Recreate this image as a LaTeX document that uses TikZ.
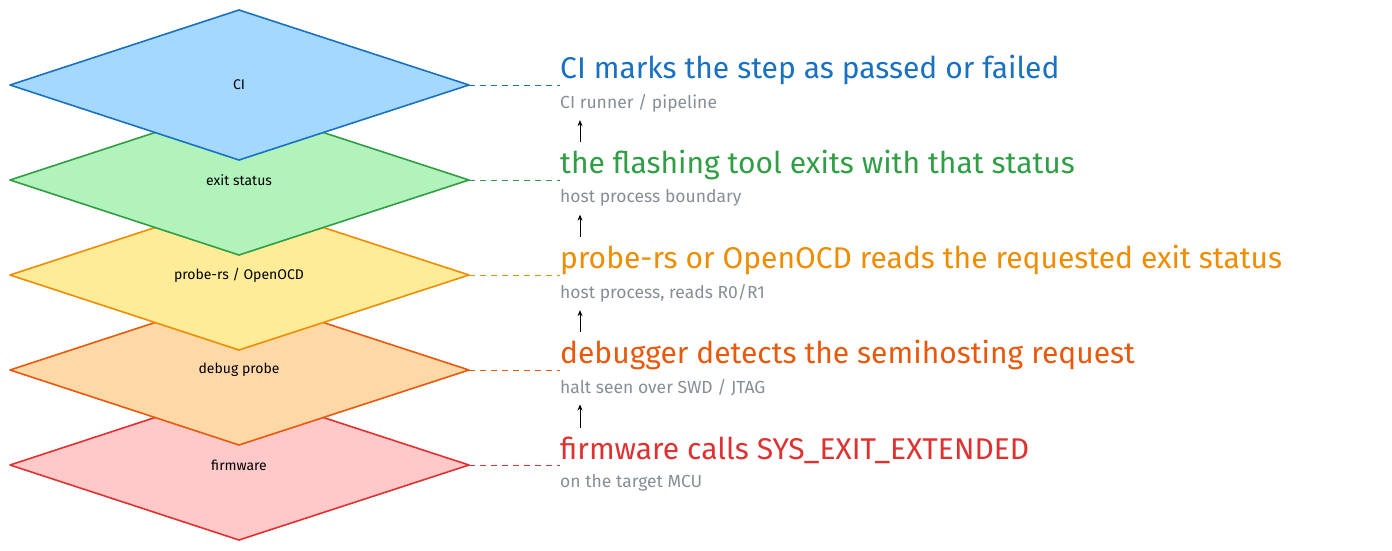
\documentclass[tikz,border=0pt]{standalone}
\usepackage{fontspec}
\setmainfont{Fira Sans}
\usetikzlibrary{arrows.meta}
\definecolor{bF}{HTML}{A5D8FF}\definecolor{bS}{HTML}{1971C2}
\definecolor{gF}{HTML}{B2F2BB}\definecolor{gS}{HTML}{2F9E44}
\definecolor{yF}{HTML}{FFEC99}\definecolor{yS}{HTML}{F08C00}
\definecolor{oF}{HTML}{FFD8A8}\definecolor{oS}{HTML}{E8590C}
\definecolor{rF}{HTML}{FFC9C9}\definecolor{rS}{HTML}{E03131}
\definecolor{subc}{HTML}{868E96}
\begin{document}
\begin{tikzpicture}[x=1pt,y=-1pt,
  lay/.style={line width=1.6pt,line join=round},
  lbl/.style={font=\fontsize{14}{16}\selectfont,text=black},
  ttl/.style={anchor=west,font=\fontsize{30}{33}\selectfont,inner sep=0},
  sub/.style={anchor=west,font=\fontsize{17.5}{20}\selectfont,text=subc,inner sep=0},
  dsh/.style={line width=1pt,dash pattern=on 6pt off 5pt},
  arr/.style={-{Stealth[length=6pt,width=5pt]},line width=0.9pt}]
\useasboundingbox (0,0) rectangle (1392,550);
\foreach \c/\fc/\sc/\lab/\ttext/\stext/\n in {
 465/rF/rS/{firmware}/{firmware calls SYS\_EXIT\_EXTENDED}/{on the target MCU}/e,
 370/oF/oS/{debug probe}/{debugger detects the semihosting request}/{halt seen over SWD / JTAG}/d,
 275/yF/yS/{probe-rs / OpenOCD}/{probe-rs or OpenOCD reads the requested exit status}/{host process, reads R0/R1}/c,
 180/gF/gS/{exit status}/{the flashing tool exits with that status}/{host process boundary}/b,
 85/bF/bS/{CI}/{CI marks the step as passed or failed}/{CI runner / pipeline}/a}{
  \filldraw[lay,fill=\fc,draw=\sc] (10,\c) -- (239,\c-75) -- (469,\c) -- (239,\c+75) -- cycle;
  \node[lbl] (L\n) at (239,\c) {\lab};
  \coordinate (R\n) at (469,\c);
  \node[ttl,text=\sc] (T\n) at (560,\c-15) {\ttext};
  \node[sub] (S\n) at (560,\c+18) {\stext};
  \draw[dsh,draw=\sc] (R\n) -- (T\n.west |- R\n);
}
\foreach \lo/\hi in {e/d,d/c,c/b,b/a}{
  \draw[arr] ([xshift=20pt,yshift=8pt]T\lo.north west) -- ([xshift=20pt,yshift=-8pt]S\hi.south west);
}
\end{tikzpicture}
\end{document}
